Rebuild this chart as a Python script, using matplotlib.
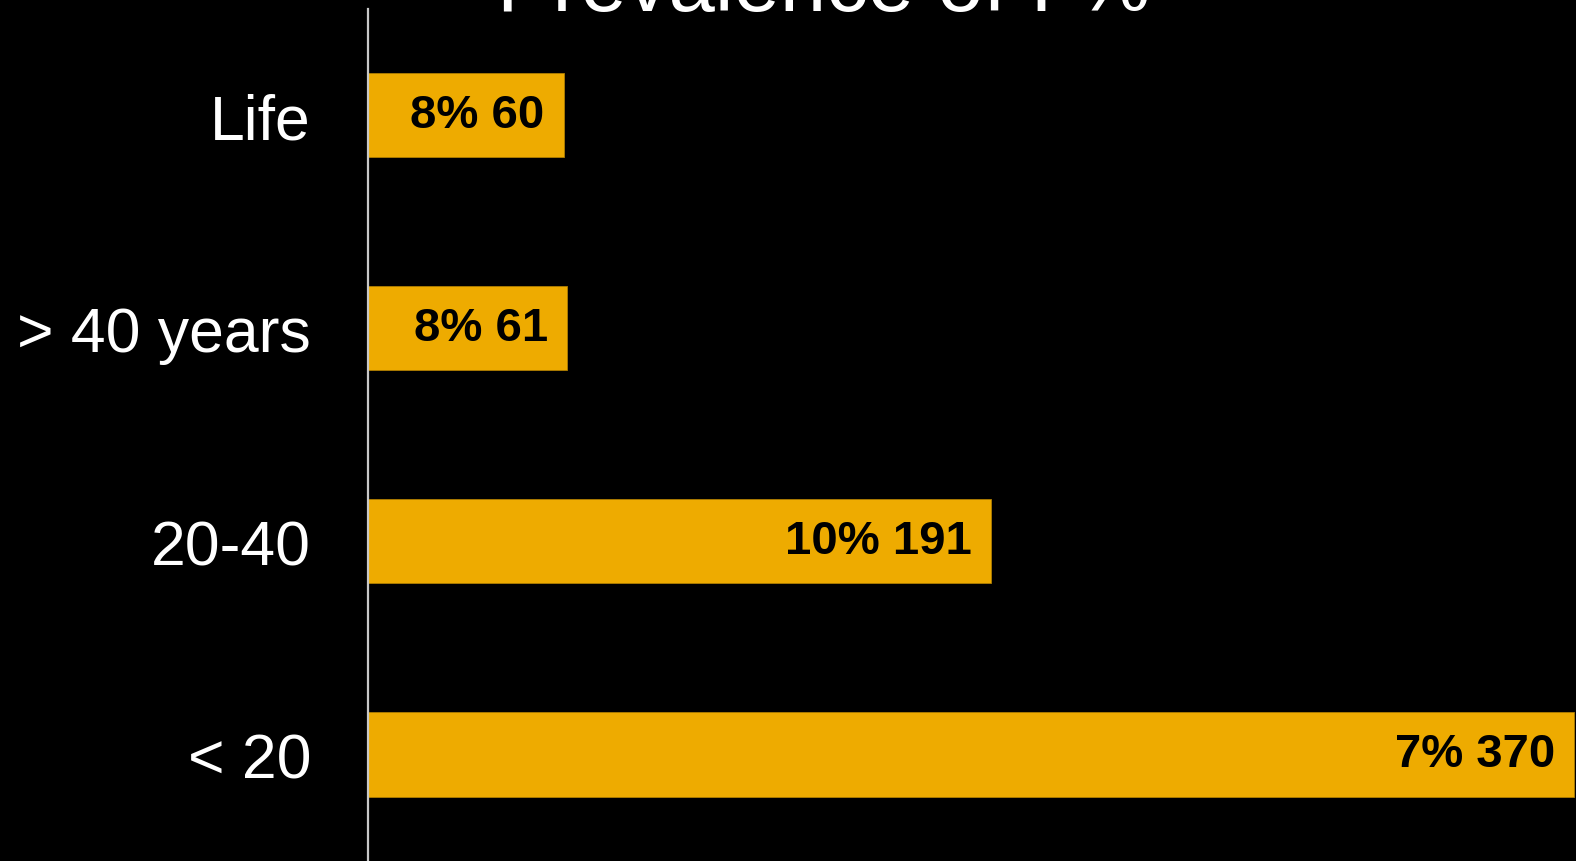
import matplotlib
matplotlib.use('Agg')
import matplotlib.pyplot as plt

plt.rcParams['font.family'] = ['Liberation Sans', 'DejaVu Sans']

# data, top to bottom
groups = ['Life', '> 40 years', '20-40', '< 20']
counts = [60, 61, 191, 370]
percents = [8, 8, 10, 7]
title = 'Prevalence of I %'

bar_color = '#EEAB00'

fig = plt.figure(figsize=(15.76, 8.62), dpi=100, facecolor='black')
ax = fig.add_axes([368 / 1576, 0, 1 - 368 / 1576, 1 - 9.5 / 862])
ax.set_facecolor('black')

pos = list(range(len(groups)))
ax.barh(pos, counts, height=0.395, color=bar_color, edgecolor='#B07E00', linewidth=0.6)
ax.set_ylim(3.5, -0.5)
ax.set_xlim(0, 370.6)

ax.set_yticks(pos)
ax.set_yticklabels(groups, color='white', fontsize=45)
ax.tick_params(axis='y', length=0, pad=41)
ax.set_xticks([])

for s in ['top', 'right', 'bottom']:
    ax.spines[s].set_visible(False)
ax.spines['left'].set_color('#C8C8C8')
ax.spines['left'].set_linewidth(1.6)

for i, (c, p) in enumerate(zip(counts, percents)):
    ax.annotate('%d%% %d' % (p, c), xy=(c, i), xytext=(-19, 0), textcoords='offset pixels',
                ha='right', va='center', fontsize=34, fontweight='bold', color='black')

# title sits mostly above the top edge, only its lower part shows
fig.text(824 / 1576, 1 - 11 / 862, title, ha='center', va='baseline', fontsize=60, color='white')

fig.savefig('out.png', dpi=100, facecolor='black')
